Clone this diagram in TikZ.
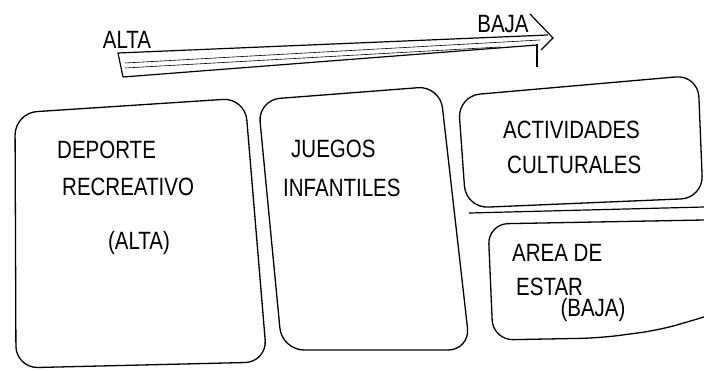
\documentclass[tikz,border=0pt]{standalone}
\usepackage{fontspec}
\setmainfont{Liberation Sans}
\newfontfamily\handfont[FakeStretch=0.82]{Liberation Sans}
\begin{document}
\begin{tikzpicture}[x=1pt,y=-1pt,
  box/.style={draw=black,line width=1.3pt,rounded corners=22pt},
  lbl/.style={font=\handfont\fontsize{25}{28}\selectfont,inner sep=0pt,align=center},
  bar/.style={draw=black,line width=1.2pt}]
\useasboundingbox (0,0) rectangle (704,370);
% scale arrow
\coordinate (a1) at (118,53);
\coordinate (a2) at (123,77);
\coordinate (b1) at (548,35);
\coordinate (b2) at (537,45);
\draw[bar] (a2) -- (a1) -- (b1);
\draw[bar] (a2) -- (b2);
\draw[line width=0.6pt] (125,63) -- (540,40);
\draw[line width=0.6pt] (125,68) -- (500,47);
\draw[bar] (530,14) -- (553,38) -- (541,50);
\draw[bar] (537,44) -- (537,67);
\node[lbl] (alta) at (127,40) {ALTA};
\node[lbl] (baja) at (503,24) {BAJA};
% boxes
\draw[box] (15,113) -- (245,98) -- (267,362) -- (16,368) -- cycle;
\draw[box] (258,100) -- (440,86) -- (470,350) -- (282,350) -- cycle;
\draw[box] (458,96) -- (698,75) -- (703,198) -- (466,208) -- cycle;
\draw[line width=1.2pt] (469,213) -- (704,207);
\draw[line width=1.3pt,rounded corners=20pt] (704,220) -- (488,224) -- (493,340) -- (600,338) -- (660,330) [sharp corners] -- (704,317);
% labels
\node[lbl,anchor=west] (dep) at (57,150) {DEPORTE};
\node[lbl,anchor=west] (rec) at (62,187) {RECREATIVO};
\node[lbl] (alt) at (139,243) {(ALTA)};
\node[lbl,anchor=west] (jue) at (291,149) {JUEGOS};
\node[lbl,anchor=west] (inf) at (283,188) {INFANTILES};
\node[lbl,anchor=west] (act) at (503,130) {ACTIVIDADES};
\node[lbl,anchor=west] (cul) at (507,165) {CULTURALES};
\node[lbl,anchor=west] (are) at (512,253) {AREA DE};
\node[lbl,anchor=west] (est) at (516,287) {ESTAR};
\node[lbl] (baj2) at (593,310) {(BAJA)};
\end{tikzpicture}
\end{document}
